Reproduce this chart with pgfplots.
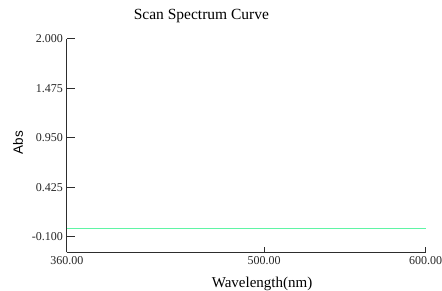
\documentclass[border=0pt]{standalone}
\usepackage{fontspec}
\setmainfont{Liberation Serif}
\newfontfamily\arialfont{Liberation Sans}
\usepackage{pgfplots}
\pgfplotsset{compat=1.18}
\definecolor{specgreen}{RGB}{95,245,165}
\definecolor{axgray}{RGB}{45,45,45}
\begin{document}
\begin{tikzpicture}
\useasboundingbox (-67pt,-38.7pt) rectangle (375pt,252.3pt);
\begin{axis}[
  at={(0pt,0pt)}, anchor=south west,
  scale only axis,
  width=358.5pt, height=213.3pt,
  xmin=360, xmax=600,
  ymin=-0.266, ymax=2.0,
  axis lines*=left,
  axis line style={axgray, line width=1pt, -},
  xtick={360,491.9,600},
  xticklabels={360.00,500.00,600.00},
  ytick={-0.1,0.425,0.95,1.475,2.0},
  yticklabels={-0.100,0.425,0.950,1.475,2.000},
  /pgf/number format/assume math mode=true,
  tick align=inside,
  major tick length=8pt,
  xtick style={axgray, line width=1pt, /pgfplots/major tick length=5pt},
  ytick style={axgray, line width=1pt},
  yticklabel style={font=\fontsize{12}{12}\selectfont, text=black!85, inner sep=0pt, xshift=-4pt},
  xticklabel style={font=\fontsize{12}{12}\selectfont, text=black!85, inner sep=0pt, yshift=-4.4pt},
  title={Scan Spectrum Curve},
  title style={font=\fontsize{15.5}{18}\selectfont, at={(axis description cs:0.375,1.0633)}, anchor=base, inner sep=0pt},
  xlabel={Wavelength(nm)},
  xlabel style={font=\fontsize{15}{18}\selectfont, at={(axis description cs:0.544,-0.165)}, anchor=base, inner sep=0pt},
  ylabel={\arialfont Abs},
  ylabel style={font=\fontsize{13.5}{16}\selectfont, at={(axis description cs:-0.1367,0.515)}, anchor=center, inner sep=0pt},
  clip=false,
]
\addplot[specgreen, line width=1pt] coordinates {(360,-0.011) (600,-0.011)};
\end{axis}
\end{tikzpicture}
\end{document}
